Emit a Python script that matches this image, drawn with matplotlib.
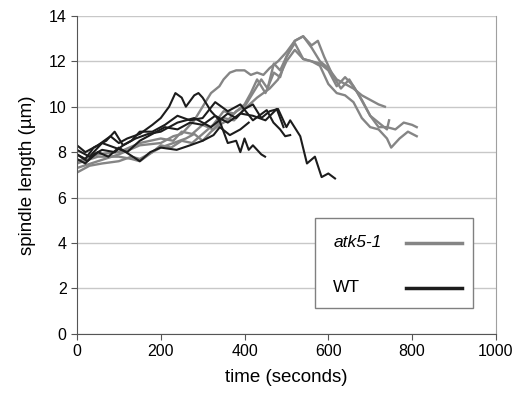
import matplotlib.pyplot as plt
from matplotlib.patches import Rectangle

plt.rcParams['font.family'] = ['Liberation Sans', 'DejaVu Sans']

# atk5-1 traces (time s, spindle length um)
atk_a_t = [0, 30, 60, 100, 130, 150, 180, 200, 230, 260, 280, 300, 320, 340, 360, 380, 400, 420, 440, 455, 470, 485, 500, 520, 540, 560, 580, 600, 620, 640, 660, 680, 700, 720, 735]
atk_a_y = [7.1, 7.4, 7.5, 7.6, 7.8, 7.7, 8.0, 8.2, 8.4, 8.6, 8.8, 8.5, 8.9, 9.2, 9.4, 9.8, 10.0, 10.6, 11.2, 10.8, 11.9, 11.6, 12.2, 12.9, 13.1, 12.6, 12.0, 11.7, 11.2, 11.0, 10.8, 10.5, 10.3, 10.1, 10.0]
atk_b_t = [0, 50, 100, 150, 200, 230, 250, 280, 300, 320, 340, 350, 365, 380, 400, 415, 430, 445, 460, 480, 500, 520, 540, 560, 575, 590, 610, 630, 650, 670, 685, 700, 720, 740, 760, 780, 800, 811]
atk_b_y = [7.3, 7.6, 7.9, 8.3, 8.4, 8.7, 8.8, 9.4, 10.0, 10.6, 10.9, 11.2, 11.5, 11.6, 11.6, 11.4, 11.5, 11.4, 11.7, 12.0, 12.4, 12.9, 13.1, 12.7, 12.9, 12.2, 11.4, 10.8, 11.2, 10.6, 10.1, 9.6, 9.1, 9.1, 9.0, 9.3, 9.2, 9.1]
atk_c_t = [0, 50, 100, 130, 150, 180, 200, 225, 250, 275, 300, 325, 350, 375, 400, 415, 430, 450, 470, 485, 500, 520, 540, 560, 580, 600, 620, 640, 660, 680, 700, 720, 740, 750, 770, 790, 811]
atk_c_y = [7.5, 7.8, 7.8, 7.7, 7.6, 8.0, 8.3, 8.2, 8.5, 8.4, 8.8, 9.2, 9.8, 9.7, 10.1, 10.6, 11.2, 10.6, 11.5, 11.3, 12.2, 12.8, 12.1, 12.0, 11.8, 11.0, 10.6, 10.5, 10.2, 9.5, 9.1, 9.0, 8.6, 8.2, 8.6, 8.9, 8.7]
atk_d_t = [0, 50, 100, 150, 200, 230, 250, 275, 300, 325, 350, 375, 400, 430, 460, 480, 500, 520, 540, 560, 580, 600, 620, 640, 660, 680, 700, 720, 740, 745]
atk_d_y = [7.6, 7.9, 8.0, 8.4, 8.6, 8.5, 8.9, 8.8, 9.2, 9.0, 9.5, 9.4, 9.9, 10.4, 10.8, 11.2, 12.0, 12.5, 12.1, 12.0, 11.9, 11.6, 10.9, 11.3, 10.9, 10.3, 9.6, 9.3, 9.0, 9.4]

# WT traces
wt_a_t = [0, 20, 50, 80, 100, 120, 150, 180, 200, 220, 235, 250, 260, 280, 290, 300, 320, 340, 360, 380, 390, 400, 410, 420, 440, 449]
wt_a_y = [8.3, 8.0, 8.3, 8.7, 8.4, 8.6, 8.8, 9.2, 9.5, 10.0, 10.6, 10.4, 10.0, 10.5, 10.6, 10.4, 9.8, 9.4, 8.4, 8.5, 8.0, 8.6, 8.1, 8.3, 7.9, 7.8]
wt_b_t = [0, 20, 40, 60, 90, 110, 140, 170, 200, 240, 280, 320, 340, 360, 380, 400, 420, 440, 460, 480, 500, 509, 533, 549, 568, 584, 600, 616]
wt_b_y = [7.7, 7.5, 7.9, 8.1, 8.0, 8.3, 8.6, 8.8, 8.9, 9.3, 9.5, 9.1, 9.4, 9.7, 9.5, 9.9, 10.1, 9.5, 9.8, 9.9, 9.1, 9.4, 8.7, 7.5, 7.8, 6.9, 7.06, 6.84]
wt_c_t = [0, 20, 40, 70, 90, 110, 130, 150, 180, 210, 240, 270, 300, 330, 360, 390, 420, 453, 469, 485, 497, 509]
wt_c_y = [7.9, 7.7, 8.2, 8.5, 8.9, 8.3, 8.5, 8.9, 8.9, 9.2, 9.6, 9.4, 9.5, 10.2, 9.8, 10.1, 9.4, 9.85, 9.3, 9.0, 8.7, 8.75]
wt_d_t = [0, 30, 60, 90, 120, 150, 180, 210, 240, 270, 300, 330, 360, 390, 420, 450, 477, 493]
wt_d_y = [8.1, 7.8, 8.4, 8.2, 8.0, 8.5, 8.8, 9.1, 9.0, 9.3, 9.2, 9.6, 9.3, 9.7, 9.6, 9.4, 9.9, 9.1]
wt_e_t = [0, 25, 50, 75, 100, 125, 150, 175, 200, 238, 270, 300, 326, 341, 365, 390, 410]
wt_e_y = [7.9, 7.6, 8.0, 7.8, 8.2, 7.9, 7.6, 8.0, 8.2, 8.1, 8.3, 8.5, 8.75, 9.1, 8.75, 9.0, 9.3]

atk_traces = [(atk_a_t, atk_a_y), (atk_b_t, atk_b_y), (atk_c_t, atk_c_y), (atk_d_t, atk_d_y)]
wt_traces = [(wt_a_t, wt_a_y), (wt_b_t, wt_b_y), (wt_c_t, wt_c_y), (wt_d_t, wt_d_y), (wt_e_t, wt_e_y)]

gray = '#858585'
dark = '#1c1c1c'

fig = plt.figure(figsize=(5.27, 3.96), dpi=100)
ax = fig.add_axes([0.146, 0.157, 0.795, 0.803])

for t, y in atk_traces:
    ax.plot(t, y, color=gray, lw=1.7)
for t, y in wt_traces:
    ax.plot(t, y, color=dark, lw=1.5)

ax.set_xlim(0, 1000)
ax.set_ylim(0, 14)
ax.set_xticks(range(0, 1001, 200))
ax.set_yticks(range(0, 15, 2))
ax.yaxis.grid(True, color='#c8c8c8', lw=1)
ax.set_axisbelow(True)
ax.spines['top'].set_visible(False)
ax.spines['right'].set_color('#a0a0a0')
ax.spines['left'].set_color('#555555')
ax.spines['bottom'].set_color('#555555')
ax.tick_params(colors='#555555', labelcolor='black', labelsize=11.5, length=4)
ax.set_xlabel('time (seconds)', fontsize=13.5, labelpad=7)
ax.set_ylabel('spindle length (µm)', fontsize=13.5, labelpad=9)

# legend box drawn by hand
ax.add_patch(Rectangle((0.568, 0.082), 0.377, 0.283, transform=ax.transAxes,
                       facecolor='white', edgecolor='#808080', lw=1, zorder=5))
ax.text(0.613, 0.286, 'atk5-1', style='italic', fontsize=12.5, transform=ax.transAxes, va='center', zorder=6)
ax.plot([0.785, 0.92], [0.286, 0.286], color=gray, lw=2.5, transform=ax.transAxes, zorder=6)
ax.text(0.61, 0.145, 'WT', fontsize=12.5, transform=ax.transAxes, va='center', zorder=6)
ax.plot([0.785, 0.92], [0.145, 0.145], color=dark, lw=2.5, transform=ax.transAxes, zorder=6)

fig.savefig('out.png', dpi=100)
